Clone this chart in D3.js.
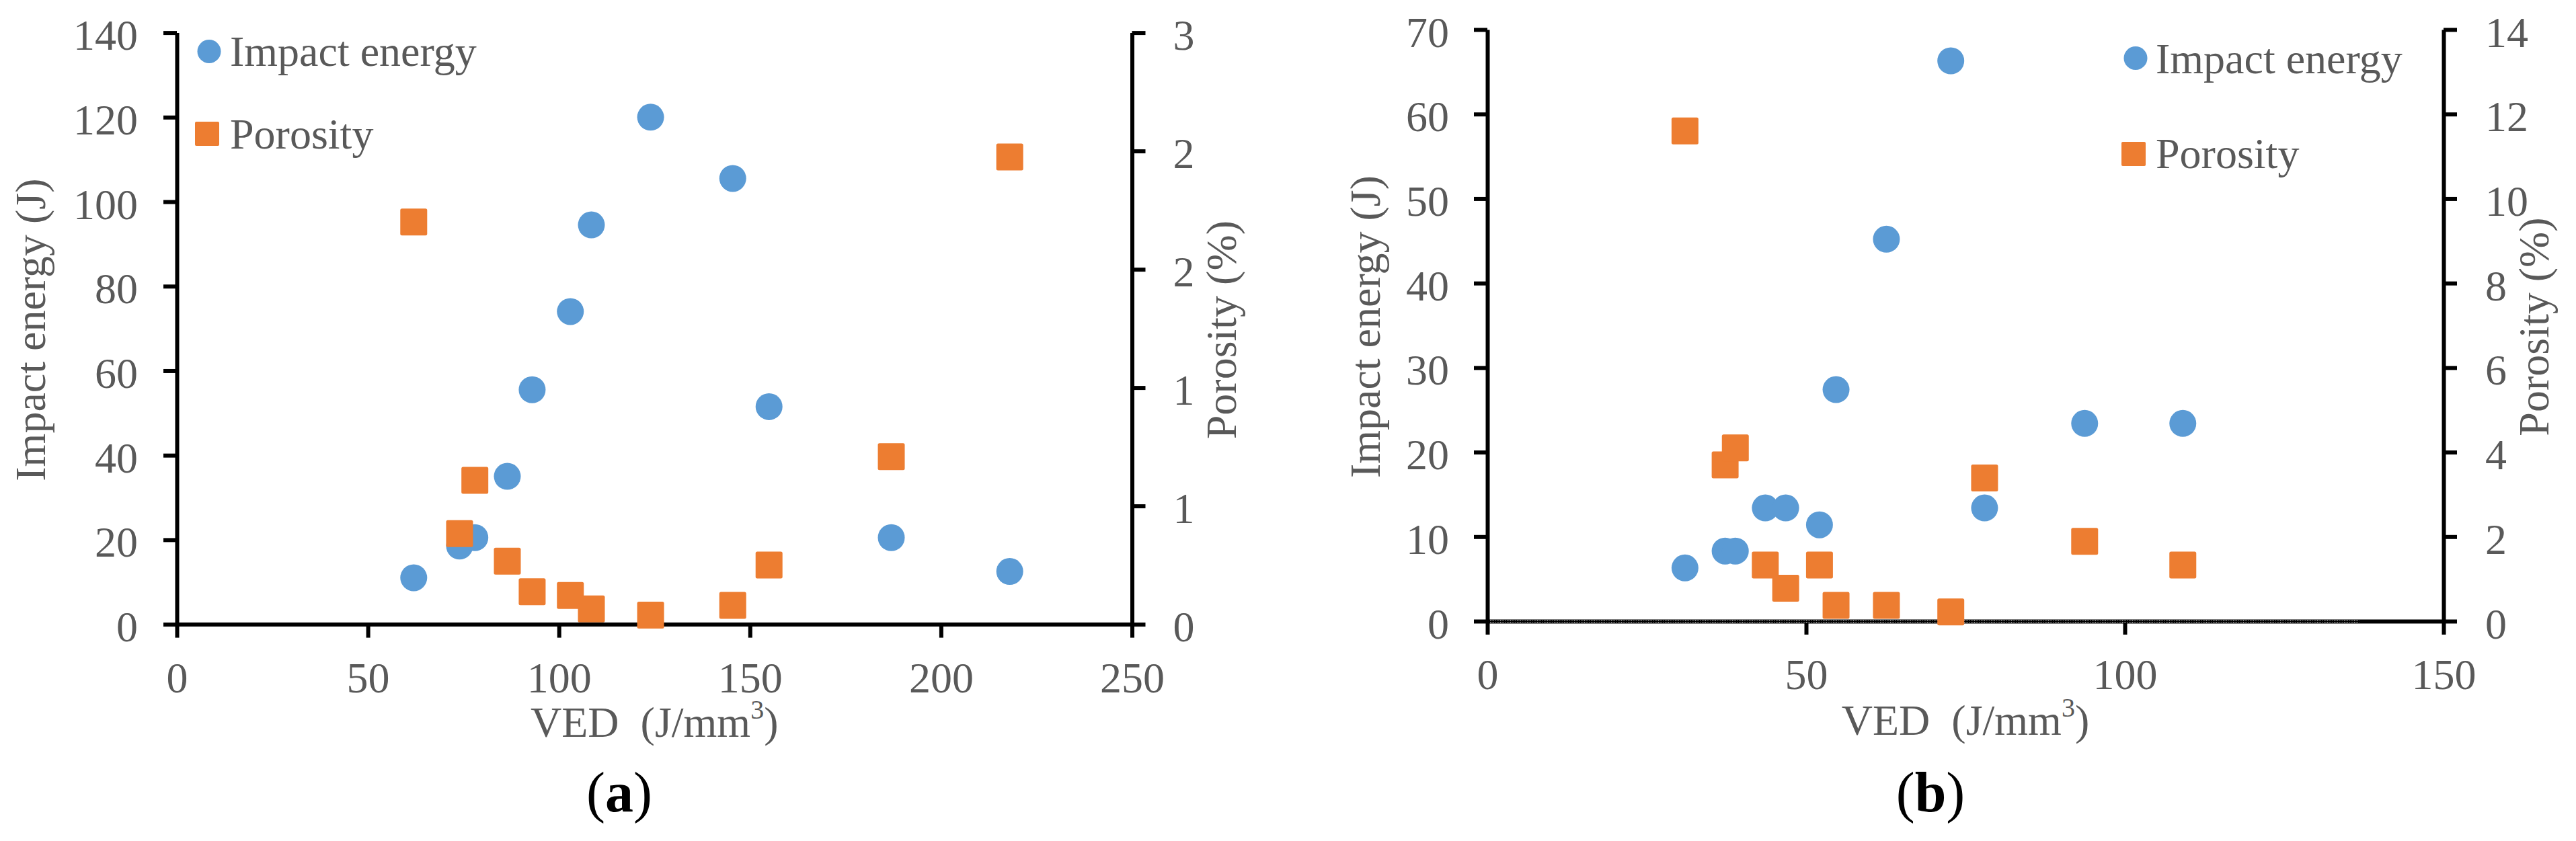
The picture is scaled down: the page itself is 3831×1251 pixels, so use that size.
<!DOCTYPE html>
<html>
<head>
<meta charset="utf-8">
<script src="https://cdn.jsdelivr.net/npm/d3@7"></script>
<style>
  html, body { margin: 0; padding: 0; background: #fff; }
  svg { display: block; }
</style>
</head>
<body>
<script>
// ---------------- DATA ----------------
// Panel (a)
const vedA       = [62, 74, 78, 86.5, 93, 103, 108.5, 124, 145.5, 155, 187, 218];
const impactA    = [11, 18.5, 20.5, 35, 55.5, 74, 94.5, 120, 105.5, 51.5, 20.5, 12.5];
const porosityA  = [2.04, 0.46, 0.73, 0.32, 0.165, 0.146, 0.078, 0.046, 0.096, 0.30, 0.85, 2.37];
const xTicksA      = [0, 50, 100, 150, 200, 250];
const yLeftTicksA  = [0, 20, 40, 60, 80, 100, 120, 140];
const yRightTicksA = [0, 0.6, 1.2, 1.8, 2.4, 3];

// Panel (b)
const vedB       = [31, 37.3, 38.9, 43.6, 46.8, 52.1, 54.7, 62.6, 72.7, 78, 93.7, 109.1];
const impactB    = [6.3, 8.3, 8.3, 13.4, 13.4, 11.4, 27.4, 45.2, 66.3, 13.4, 23.4, 23.4];
const porosityB  = [11.6, 3.7, 4.1, 1.33, 0.78, 1.33, 0.375, 0.375, 0.22, 3.39, 1.89, 1.33];
const xTicksB      = [0, 50, 100, 150];
const yLeftTicksB  = [0, 10, 20, 30, 40, 50, 60, 70];
const yRightTicksB = [0, 2, 4, 6, 8, 10, 12, 14];

const seriesNames = ["Impact energy", "Porosity"];
const yLeftTitle  = "Impact energy (J)";
const yRightTitle = "Porosity (%)";
const panelLabels = ["a", "b"];

// ---------------- STYLE ----------------
const FONT = "'Liberation Serif', 'Times New Roman', 'DejaVu Serif', serif";
const TEXT = "#595959";
const BLUE = "#5B9BD5";
const ORANGE = "#ED7D31";
const FS = 64;

const svg = d3.select("body").append("svg")
  .attr("width", 3831).attr("height", 1251);

function styleAxis(g) {
  g.attr("font-family", FONT).attr("font-size", FS);
  g.select(".domain").attr("stroke", "#000").attr("stroke-width", 6);
  g.selectAll(".tick line").attr("stroke", "#000").attr("stroke-width", 6);
  g.selectAll(".tick text").attr("fill", TEXT).attr("dy", null);
}

function panel(p) {
  const x  = d3.scaleLinear().domain([0, p.xTicks[p.xTicks.length - 1]]).range([p.x0, p.x1]);
  const yL = d3.scaleLinear().domain([0, p.yL[p.yL.length - 1]]).range([p.yBot, p.yTop]);
  const yR = d3.scaleLinear().domain([0, p.yR[p.yR.length - 1]]).range([p.yBot, p.yTop]);
  const g = svg.append("g");

  // axes
  const gx = g.append("g").attr("transform", `translate(0,${p.yBot})`)
    .call(d3.axisBottom(x).tickValues(p.xTicks).tickSize(20).tickSizeOuter(0).tickFormat(d3.format("d")));
  styleAxis(gx);
  gx.selectAll(".tick text").attr("y", 101);

  const gl = g.append("g").attr("transform", `translate(${p.x0},0)`)
    .call(d3.axisLeft(yL).tickValues(p.yL).tickSize(20).tickSizeOuter(0).tickFormat(d3.format("d")));
  styleAxis(gl);
  gl.selectAll(".tick text").attr("x", -p.leftGap).attr("y", 25);

  const gr = g.append("g").attr("transform", `translate(${p.x1},0)`)
    .call(d3.axisRight(yR).tickValues(p.yR).tickSize(20).tickSizeOuter(0).tickFormat(d3.format(".0f")));
  styleAxis(gr);
  gr.selectAll(".tick text").attr("x", p.rightGap).attr("y", 25);

  if (p.dotted) {
    [-1.5, 1.5].forEach(off => {
      g.append("line")
        .attr("x1", p.x0 + 4).attr("x2", x(p.dotted))
        .attr("y1", p.yBot + off).attr("y2", p.yBot + off)
        .attr("stroke", "#fff").attr("stroke-width", 1)
        .attr("stroke-dasharray", "1 1.5");
    });
  }

  // titles
  const tx = g.append("text")
    .attr("x", (p.x0 + p.x1) / 2).attr("y", p.xTitleY)
    .attr("text-anchor", "middle")
    .attr("font-family", FONT).attr("font-size", FS).attr("fill", TEXT)
    .style("white-space", "pre");
  tx.append("tspan").text("VED  (J/mm");
  tx.append("tspan").attr("font-size", 40).attr("dy", -27).text("3");
  tx.append("tspan").attr("dy", 27).text(")");

  g.append("text")
    .attr("transform", `translate(${p.yLTitleX},${(p.yTop + p.yBot) / 2 + 2}) rotate(-90)`)
    .attr("text-anchor", "middle")
    .attr("font-family", FONT).attr("font-size", FS).attr("fill", TEXT)
    .text(yLeftTitle);

  g.append("text")
    .attr("transform", `translate(${p.yRTitleX},${(p.yTop + p.yBot) / 2 + 2}) rotate(-90)`)
    .attr("text-anchor", "middle")
    .attr("font-family", FONT).attr("font-size", FS).attr("fill", TEXT)
    .text(yRightTitle);

  // panel label
  const lab = g.append("text")
    .attr("x", p.labelX).attr("y", 1207)
    .attr("text-anchor", "middle")
    .attr("font-family", FONT).attr("font-size", 84).attr("fill", "#000");
  lab.append("tspan").text("(");
  lab.append("tspan").attr("font-weight", "bold").text(p.label);
  lab.append("tspan").text(")");

  // markers
  const ptsE = p.ved.map((v, i) => ({ v, e: p.impact[i] }));
  const ptsP = p.ved.map((v, i) => ({ v, q: p.porosity[i] }));
  g.append("g").selectAll("circle").data(ptsE).join("circle")
    .attr("cx", d => x(d.v)).attr("cy", d => yL(d.e)).attr("r", 20)
    .attr("fill", BLUE);
  g.append("g").selectAll("rect").data(ptsP).join("rect")
    .attr("x", d => x(d.v) - 20).attr("y", d => yR(d.q) - 20)
    .attr("width", 40).attr("height", 40).attr("rx", 2.5)
    .attr("fill", ORANGE);

  // legend
  const L = p.legend;
  g.append("circle").attr("cx", L.cx).attr("cy", L.cy1).attr("r", 17.5).attr("fill", BLUE);
  g.append("rect").attr("x", L.cx - 3 - 18).attr("y", L.cy2 - 18).attr("width", 36).attr("height", 36)
    .attr("rx", 2).attr("fill", ORANGE);
  g.append("text").attr("x", L.tx).attr("y", L.b1)
    .attr("font-family", FONT).attr("font-size", FS).attr("fill", TEXT).text(seriesNames[0]);
  g.append("text").attr("x", L.tx).attr("y", L.b2)
    .attr("font-family", FONT).attr("font-size", FS).attr("fill", TEXT).text(seriesNames[1]);
}

panel({
  x0: 263, x1: 1683.5, yTop: 48.6, yBot: 928.6,
  xTicks: xTicksA, yL: yLeftTicksA, yR: yRightTicksA,
  ved: vedA, impact: impactA, porosity: porosityA,
  leftGap: 58, rightGap: 61, xTitleY: 1096,
  yLTitleX: 67, yRTitleX: 1838,
  label: panelLabels[0], labelX: 921,
  legend: { cx: 311, cy1: 76.5, cy2: 199, tx: 342, b1: 97.6, b2: 221 }
});

panel({
  x0: 2212, x1: 3634, yTop: 44, yBot: 924,
  xTicks: xTicksB, yL: yLeftTicksB, yR: yRightTicksB,
  ved: vedB, impact: impactB, porosity: porosityB,
  leftGap: 57, rightGap: 62, xTitleY: 1093,
  yLTitleX: 2052, yRTitleX: 3790,
  label: panelLabels[1], labelX: 2871,
  dotted: 136.8,
  legend: { cx: 3176, cy1: 86.5, cy2: 229, tx: 3206, b1: 109, b2: 250 }
});
</script>
</body>
</html>
